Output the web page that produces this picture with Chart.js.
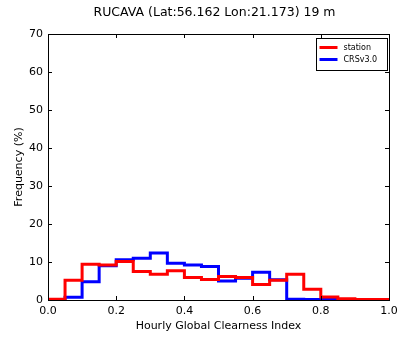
<!DOCTYPE html>
<html>
<head>
<meta charset="utf-8">
<script src="https://cdn.jsdelivr.net/npm/chart.js@4.4.0/dist/chart.umd.min.js"></script>
<style>
  html, body { margin: 0; padding: 0; background: #fff; }
  #wrap { width: 397px; height: 337px; }
</style>
</head>
<body>
<div id="wrap"><canvas id="histChart" width="397" height="337"></canvas></div>
<script>
// bin edges of the clearness index histogram (0.05 wide)
const binEdges = [0.0, 0.05, 0.1, 0.15, 0.2, 0.25, 0.3, 0.35, 0.4, 0.45, 0.5,
                  0.55, 0.6, 0.65, 0.7, 0.75, 0.8, 0.85, 0.9, 0.95, 1.0];
// frequency (%) per bin
const stationFreq = [0.2, 5.2, 9.4, 9.2, 10.1, 7.5, 6.8, 7.7, 5.9, 5.4,
                     6.2, 5.9, 4.1, 5.2, 6.8, 2.8, 0.8, 0.3, 0.1, 0.1];
const crsFreq = [0.1, 0.7, 4.8, 9.0, 10.6, 11.0, 12.4, 9.7, 9.2, 8.8,
                 5.0, 5.7, 7.3, 5.3, 0.2, 0.1, 0.1, 0.1, 0.1, 0.1];
const xTicks = [0.0, 0.2, 0.4, 0.6, 0.8, 1.0];
const yTicks = [0, 10, 20, 30, 40, 50, 60, 70];
const seriesNames = ['station', 'CRSv3.0'];
const seriesColors = ['#ff0000', '#0000ff'];
const chartTitle = 'RUCAVA (Lat:56.162 Lon:21.173) 19 m';

// outline of a step histogram, like matplotlib histtype='step'
function stepOutline(values) {
  const pts = [{ x: binEdges[0], y: 0 }];
  values.forEach((v, i) => {
    pts.push({ x: binEdges[i], y: v });
    pts.push({ x: binEdges[i + 1], y: v });
  });
  pts.push({ x: binEdges[binEdges.length - 1], y: 0 });
  return pts;
}

const FONT = 'DejaVu Sans';

// title over the axes, box around the plot, inward ticks on all sides, legend
const framePlugin = {
  id: 'frame',
  afterDatasetsDraw(chart) {
    const { ctx, chartArea: a, scales } = chart;
    ctx.save();
    ctx.fillStyle = '#000';
    ctx.font = '12.5px "' + FONT + '"';
    ctx.textAlign = 'center';
    ctx.textBaseline = 'middle';
    ctx.fillText(chartTitle, (a.left + a.right) / 2 - 4, 13);

    ctx.strokeStyle = '#000';
    ctx.lineWidth = 1;
    ctx.strokeRect(Math.round(a.left) + 0.5, Math.round(a.top) + 0.5,
                   Math.round(a.right - a.left), Math.round(a.bottom - a.top));
    ctx.beginPath();
    xTicks.forEach(t => {
      const px = Math.round(scales.x.getPixelForValue(t)) + 0.5;
      ctx.moveTo(px, a.bottom); ctx.lineTo(px, a.bottom - 4);
      ctx.moveTo(px, a.top); ctx.lineTo(px, a.top + 4);
    });
    yTicks.forEach(t => {
      const py = Math.round(scales.y.getPixelForValue(t)) + 0.5;
      ctx.moveTo(a.left, py); ctx.lineTo(a.left + 4, py);
      ctx.moveTo(a.right, py); ctx.lineTo(a.right - 4, py);
    });
    ctx.stroke();

    // legend
    const lw = 71, lh = 32;
    const lx = Math.round(a.right) - lw - 1.5, ly = Math.round(a.top) + 4.5;
    ctx.fillStyle = '#fff';
    ctx.fillRect(lx, ly, lw, lh);
    ctx.strokeStyle = '#000';
    ctx.strokeRect(lx, ly, lw, lh);
    ctx.font = '8px "' + FONT + '"';
    ctx.textAlign = 'left';
    ctx.textBaseline = 'middle';
    seriesNames.forEach((name, i) => {
      const y = ly + 9 + i * 12;
      ctx.strokeStyle = seriesColors[i];
      ctx.lineWidth = 3;
      ctx.beginPath();
      ctx.moveTo(lx + 3, y); ctx.lineTo(lx + 21, y);
      ctx.stroke();
      ctx.fillStyle = '#000';
      ctx.fillText(name, lx + 27, y);
    });
    ctx.restore();
  }
};

document.addEventListener('DOMContentLoaded', function () {
  const ctx = document.getElementById('histChart').getContext('2d');
  new Chart(ctx, {
    type: 'line',
    data: {
      datasets: [
        { label: seriesNames[0], data: stepOutline(stationFreq), borderColor: seriesColors[0],
          borderWidth: 3, pointRadius: 0, fill: false, tension: 0 },
        { label: seriesNames[1], data: stepOutline(crsFreq), borderColor: seriesColors[1],
          borderWidth: 3, pointRadius: 0, fill: false, tension: 0 }
      ]
    },
    options: {
      responsive: false,
      animation: false,
      layout: { padding: { left: 0, right: 8, top: 34, bottom: 0 } },
      plugins: {
        legend: { display: false },
        tooltip: { enabled: false },
        title: { display: false }
      },
      scales: {
        x: {
          type: 'linear',
          min: 0, max: 1,
          afterBuildTicks: s => { s.ticks = xTicks.map(v => ({ value: v })); },
          afterFit: s => { s.height = 37; s.paddingLeft = 0; s.paddingRight = 0; },
          grid: { display: false, drawTicks: false },
          border: { display: false },
          ticks: {
            color: '#000', padding: 5,
            font: { family: FONT, size: 11 },
            callback: v => v.toFixed(1)
          },
          title: {
            display: true, text: 'Hourly Global Clearness Index', color: '#000',
            font: { family: FONT, size: 11 }, padding: { top: 0, bottom: 4 }
          }
        },
        y: {
          min: 0, max: 70,
          afterBuildTicks: s => { s.ticks = yTicks.map(v => ({ value: v })); },
          afterFit: s => { s.width = 48; s.paddingTop = 0; s.paddingBottom = 0; },
          grid: { display: false, drawTicks: false },
          border: { display: false },
          ticks: {
            color: '#000', padding: 5,
            font: { family: FONT, size: 11 }
          },
          title: {
            display: true, text: 'Frequency (%)', color: '#000',
            font: { family: FONT, size: 11 }, padding: { top: 13, bottom: 0 }
          }
        }
      }
    },
    plugins: [framePlugin]
  });
});
</script>
</body>
</html>
